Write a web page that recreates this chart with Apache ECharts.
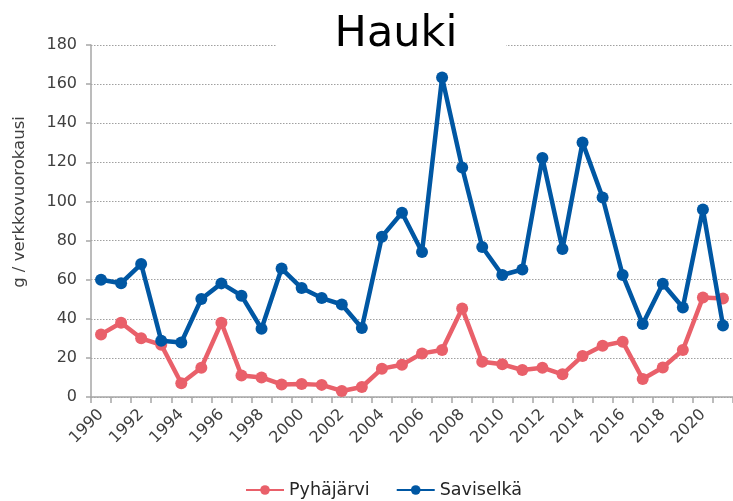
<!DOCTYPE html>
<html><head><meta charset="utf-8">
<script src="https://cdn.jsdelivr.net/npm/echarts@6/dist/echarts.min.js"></script>
<style>html,body{margin:0;padding:0;background:#fff}#c{width:733px;height:501px}</style>
</head><body><div id="c"></div>
<script>
const years = ['1990','1991','1992','1993','1994','1995','1996','1997','1998','1999','2000','2001','2002','2003','2004','2005','2006','2007','2008','2009','2010','2011','2012','2013','2014','2015','2016','2017','2018','2019','2020','2021'];
const pyhajarvi = [32,38,30,26.7,7,15,38,11,10,6.4,6.6,6.2,3.1,5.1,14.5,16.5,22.3,24,45.3,18,16.7,13.8,15,11.6,21,26.2,28.3,9.2,15.1,24,50.9,50.4];
const saviselka = [60,58.2,68,28.8,27.9,50.1,58.1,51.8,34.9,65.7,55.7,50.6,47.3,35.3,82,94.2,74.1,163.4,117.4,76.7,62.4,65.2,122.2,75.7,130.2,102,62.4,37.3,57.9,45.8,95.9,36.6];
const yTicks = {min:0, max:180, interval:20};
const font = '"DejaVu Sans", sans-serif';
const chart = echarts.init(document.getElementById('c'));
chart.setOption({
  animation:false,
  backgroundColor:'#fff',
  title:{text:'Hauki', left:391, top:8, textAlign:'center', z:20,
    textStyle:{fontFamily:font, fontSize:43, fontWeight:'normal', color:'#000'}},
  graphic:[
    {type:'rect', shape:{x:276,y:38,width:230,height:14}, style:{fill:'#fff'}, z:1},
    {type:'text', x:20, y:202, rotation:Math.PI/2, z:5,
      style:{text:'g / verkkovuorokausi', fontFamily:font, fontSize:16.5, fill:'#404040', align:'center', verticalAlign:'middle'}}
  ],
  grid:{left:91, top:45, width:645, bottom:104},
  legend:{left:240, top:476, itemWidth:38, itemHeight:12, itemGap:26,
    textStyle:{fontFamily:font, fontSize:17.5, color:'#262626'},
    data:['Pyhäjärvi','Saviselkä']},
  xAxis:{type:'category', data:years, boundaryGap:true,
    axisLine:{lineStyle:{color:'#A6A6A6', width:1.5}},
    axisTick:{show:true, alignWithLabel:false, interval:0, length:6, lineStyle:{color:'#A6A6A6', width:1.5}},
    axisLabel:{interval:1, rotate:45, margin:15, fontFamily:font, fontSize:16, color:'#404040'}},
  yAxis:{type:'value', min:yTicks.min, max:yTicks.max, interval:yTicks.interval,
    axisLine:{show:true, lineStyle:{color:'#A6A6A6', width:1.5}},
    axisTick:{show:true, length:5, lineStyle:{color:'#A6A6A6', width:1.5}},
    axisLabel:{margin:14, fontFamily:font, fontSize:16, color:'#404040'},
    splitLine:{lineStyle:{color:'#A0A0A0', type:[1.5,1.5], width:1}}},
  series:[
    {name:'Pyhäjärvi', type:'line', data:pyhajarvi, symbol:'circle', symbolSize:12,
      lineStyle:{color:'#E9606A', width:4.5}, itemStyle:{color:'#E9606A'}, z:3},
    {name:'Saviselkä', type:'line', data:saviselka, symbol:'circle', symbolSize:12,
      lineStyle:{color:'#0057A3', width:4.5}, itemStyle:{color:'#0057A3'}, z:4}
  ]
});
</script></body></html>
